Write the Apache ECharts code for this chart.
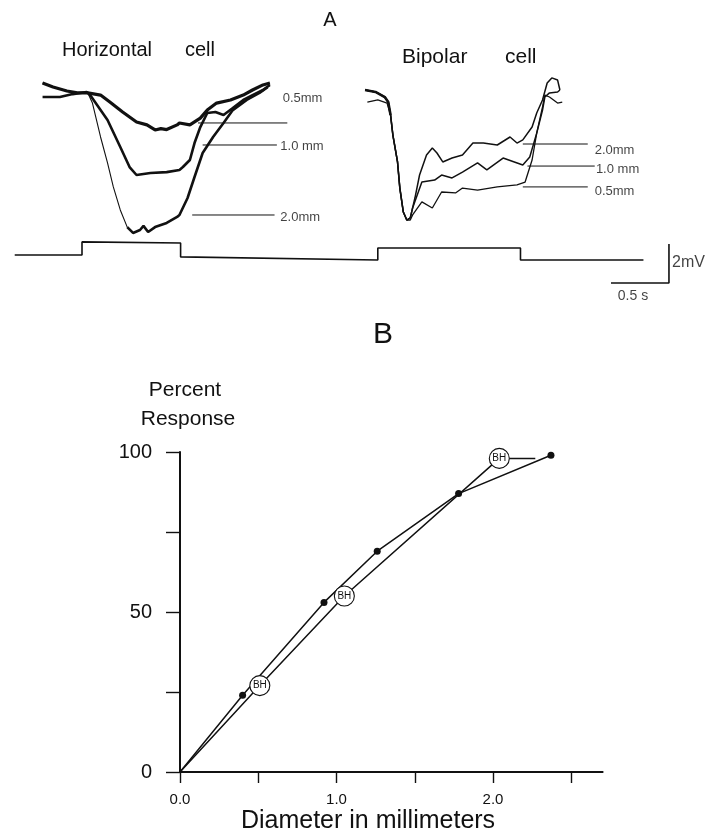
<!DOCTYPE html>
<html><head><meta charset="utf-8">
<script src="https://cdn.jsdelivr.net/npm/echarts@6/dist/echarts.min.js"></script>
<style>html,body{margin:0;padding:0;background:#fff}#c{width:714px;height:832px}</style>
</head><body><div id="c"></div>
<script>
// ---------- Panel A : time (s, 0 = first light onset), potential (mV, 0 = dark level) ----------
const hc05 = [[-0.34,0.36],[-0.25,0.15],[-0.13,-0.05],[-0.04,-0.15],[0.05,-0.15],[0.16,-0.26],[0.24,-0.62],[0.35,-1.13],[0.47,-1.64],[0.56,-1.79],[0.63,-2.05],[0.68,-1.98],[0.73,-2.03],[0.82,-1.79],[0.84,-1.69],[0.93,-1.79],[1.02,-1.44],[1.08,-1.03],[1.16,-0.67],[1.28,-0.51],[1.39,-0.26],[1.47,0],[1.56,0.26],[1.62,0.36]];
const hc10 = [[-0.34,-0.36],[-0.19,-0.36],[-0.08,-0.21],[0.04,-0.10],[0.07,-0.26],[0.22,-1.54],[0.33,-2.92],[0.41,-3.95],[0.47,-4.36],[0.59,-4.26],[0.73,-4.21],[0.84,-4.10],[0.87,-3.95],[0.93,-3.59],[0.97,-2.72],[1.02,-1.90],[1.08,-1.18],[1.15,-1.13],[1.22,-1.28],[1.30,-0.92],[1.39,-0.51],[1.47,-0.26],[1.56,0],[1.62,0.26]];
const hc20 = [[-0.34,0.36],[-0.25,0.15],[-0.13,-0.05],[-0.04,-0.15],[0.05,-0.15],[0.09,-0.67],[0.16,-2.41],[0.22,-3.74],[0.27,-4.97],[0.33,-6.15],[0.39,-7.03],[0.44,-7.33],[0.50,-7.18],[0.53,-6.97],[0.57,-7.28],[0.63,-7.03],[0.73,-6.82],[0.82,-6.51],[0.84,-6.41],[0.91,-5.54],[0.97,-4.46],[1.04,-3.23],[1.13,-2.41],[1.22,-1.69],[1.30,-1.03],[1.42,-0.51],[1.53,-0.15],[1.60,0.15]];
const bc20 = [[2.44,0],[2.53,-0.10],[2.61,-0.36],[2.64,-0.62],[2.66,-1.28],[2.68,-2.31],[2.72,-3.69],[2.74,-5.03],[2.77,-6.26],[2.80,-6.67],[2.83,-6.56],[2.87,-5.54],[2.91,-4.36],[2.97,-3.33],[3.02,-2.97],[3.06,-3.23],[3.11,-3.69],[3.19,-3.49],[3.28,-3.33],[3.37,-2.72],[3.46,-2.72],[3.58,-2.82],[3.69,-2.41],[3.75,-2.72],[3.80,-2.56],[3.88,-1.90],[3.92,-1.18],[3.97,-0.51],[4.01,0.36],[4.05,0.62],[4.10,0.51],[4.12,0]];
const bc10 = [[2.44,0],[2.53,-0.10],[2.61,-0.36],[2.64,-0.62],[2.66,-1.28],[2.68,-2.31],[2.72,-3.69],[2.74,-5.03],[2.77,-6.26],[2.80,-6.67],[2.83,-6.56],[2.85,-6.05],[2.93,-4.72],[3.04,-4.62],[3.10,-4.36],[3.19,-4.51],[3.28,-4.21],[3.41,-3.74],[3.49,-4.10],[3.63,-3.49],[3.80,-3.85],[3.86,-3.44],[3.92,-2.21],[3.97,-1.03],[3.99,-0.36],[4.03,-0.15],[4.10,-0.10],[4.12,0]];
const bc05 = [[2.46,-0.62],[2.55,-0.51],[2.63,-0.67],[2.66,-1.28],[2.68,-2.31],[2.72,-3.69],[2.74,-5.03],[2.77,-6.26],[2.80,-6.67],[2.83,-6.67],[2.85,-6.41],[2.93,-5.74],[3.02,-6.05],[3.10,-5.23],[3.22,-5.28],[3.28,-5.03],[3.41,-5.13],[3.58,-4.97],[3.75,-4.87],[3.82,-4.72],[3.88,-3.59],[3.92,-2.21],[3.97,-0.87],[3.99,-0.26],[4.03,-0.36],[4.10,-0.67],[4.14,-0.62]];
const stimulus = [[-0.58,-8.46],[0,-8.46],[0,-7.79],[0.85,-7.85],[0.85,-8.56],[2.55,-8.72],[2.55,-8.10],[3.78,-8.10],[3.78,-8.72],[4.84,-8.72]];
const leaders = [
  [[1.00,-1.69],[1.77,-1.69]], [[1.04,-2.82],[1.68,-2.82]], [[0.95,-6.41],[1.66,-6.41]],
  [[3.80,-2.77],[4.36,-2.77]], [[3.84,-3.90],[4.42,-3.90]], [[3.80,-4.97],[4.36,-4.97]]
];
const traceLabels = [
  {name:'0.5mm', value:[1.73,-0.41]}, {name:'1.0 mm', value:[1.71,-2.87]}, {name:'2.0mm', value:[1.71,-6.51]},
  {name:'2.0mm', value:[4.42,-3.08]}, {name:'1.0 mm', value:[4.43,-4.05]}, {name:'0.5mm', value:[4.42,-5.18]}
];
const scaleBar = [[4.56,-9.9],[5.06,-9.9],[5.06,-7.9]];

// ---------- Panel B : percent response vs diameter (mm) ----------
const dotDiam = [0, 0.40, 0.92, 1.26, 1.78, 2.37];
const dotResp = [0, 24, 53, 69, 87, 99];
const bhDiam = [0, 0.51, 1.05, 2.04];
const bhResp = [0, 27, 55, 98];
const bhTailDiam = [2.04, 2.27];
const bhTailResp = [98, 98];
const xTicks = [0, 0.5, 1, 1.5, 2, 2.5];
const xLabels = [0, 1, 2];
const yTicks = [0, 25, 50, 75, 100];
const yLabels = [0, 50, 100];

const FONT = "'Liberation Sans', 'DejaVu Sans', sans-serif";
const INK = '#111';

function lineA(data, width, name) {
  return {type:'line', name, xAxisIndex:0, yAxisIndex:0, data, symbol:'none', clip:false, silent:true,
    lineStyle:{color:INK, width}, z:3};
}
const zip = (a, b) => a.map((v, i) => [v, b[i]]);

const series = [
  lineA(hc05, 3.2, 'HC 0.5mm'),
  lineA(hc10, 2.6, 'HC 1.0mm'),
  lineA(hc20.slice(0, 11), 1.1, 'HC 2.0mm'),
  lineA(hc20.slice(10), 2.6, 'HC 2.0mm'),
  lineA(bc20, 1.5, 'BC 2.0mm'),
  lineA(bc10, 1.5, 'BC 1.0mm'),
  lineA(bc05, 1.3, 'BC 0.5mm'),
  lineA(bc20.slice(0, 5), 2.6, 'BC start'),
  lineA(stimulus, 1.6, 'stimulus'),
  lineA(scaleBar, 1.6, 'scale'),
  ...leaders.map(l => lineA(l, 1, 'leader')),
  {type:'scatter', xAxisIndex:0, yAxisIndex:0, data:traceLabels, symbolSize:0, silent:true,
    label:{show:true, position:'right', distance:0, formatter:p => p.name, color:INK, fontFamily:FONT, fontSize:13}},
  {type:'scatter', xAxisIndex:0, yAxisIndex:0, data:[{name:'2mV', value:[5.07,-8.85]}], symbolSize:0, silent:true,
    label:{show:true, position:'right', distance:2, formatter:p => p.name, color:INK, fontFamily:FONT, fontSize:16}},
  {type:'scatter', xAxisIndex:0, yAxisIndex:0, data:[{name:'0.5 s', value:[4.75,-9.9]}], symbolSize:0, silent:true,
    label:{show:true, position:'bottom', distance:6, formatter:p => p.name, color:INK, fontFamily:FONT, fontSize:14}},
  // Panel B
  {type:'line', xAxisIndex:1, yAxisIndex:1, data: zip(dotDiam, dotResp).map((p, i) => i === 0 ? {value:p, symbol:'none'} : p),
    symbol:'circle', symbolSize:7, showAllSymbol:true, clip:false, silent:true,
    itemStyle:{color:INK}, lineStyle:{color:INK, width:1.5}, z:3},
  {type:'line', xAxisIndex:1, yAxisIndex:1, data: zip(bhTailDiam, bhTailResp), symbol:'none', clip:false, silent:true,
    lineStyle:{color:INK, width:1.5}, z:3},
  {type:'line', xAxisIndex:1, yAxisIndex:1, data: zip(bhDiam, bhResp).map((p, i) => i === 0 ? {value:p, symbol:'none'} : p),
    symbol:'circle', symbolSize:20, showAllSymbol:true, clip:false, silent:true,
    itemStyle:{color:'#fff', borderColor:INK, borderWidth:1.1}, lineStyle:{color:INK, width:1.5},
    label:{show:true, position:'inside', formatter:p => p.dataIndex === 0 ? '' : 'BH', fontSize:10, color:INK, fontFamily:FONT},
    z:4}
];

const chart = echarts.init(document.getElementById('c'), null, {renderer:'canvas'});
const T = (text, x, y, size, align) => ({type:'text', x, y,
  style:{text, font:`${size}px ${FONT}`, fill:INK, textAlign:align || 'center', textVerticalAlign:'middle'}});
chart.setOption({
  backgroundColor:'#fff',
  animation:false,
  grid:[
    {left:12.4, top:41.25, width:672.8, height:243.75},
    {left:180, top:452, width:422.6, height:320}
  ],
  xAxis:[
    {gridIndex:0, type:'value', min:-0.6, max:5.2, show:false},
    {gridIndex:1, type:'value', min:0, max:2.7, interval:0.5,
      axisLine:{show:true, onZero:false, lineStyle:{color:INK, width:2}},
      axisTick:{show:true, length:11, customValues:xTicks, lineStyle:{color:INK, width:1.4}},
      axisLabel:{show:true, customValues:xLabels, formatter:v => Number(v).toFixed(1), margin:20,
        fontSize:15, color:INK, fontFamily:FONT},
      splitLine:{show:false}}
  ],
  yAxis:[
    {gridIndex:0, type:'value', min:-10, max:2.5, show:false},
    {gridIndex:1, type:'value', min:0, max:100, interval:25,
      axisLine:{show:true, onZero:false, lineStyle:{color:INK, width:2}},
      axisTick:{show:true, length:14, customValues:yTicks, lineStyle:{color:INK, width:1.4}},
      axisLabel:{show:true, customValues:yLabels, margin:28, fontSize:20, color:INK, fontFamily:FONT},
      splitLine:{show:false}}
  ],
  graphic:[
    T('A', 330, 20, 20),
    T('Horizontal', 62, 50, 20, 'left'),
    T('cell', 185, 50, 20, 'left'),
    T('Bipolar', 402, 57, 21, 'left'),
    T('cell', 505, 57, 21, 'left'),
    T('B', 383, 335, 30),
    T('Percent', 185, 390, 21),
    T('Response', 188, 419, 21),
    T('Diameter in millimeters', 368, 821, 25)
  ],
  series
});
</script></body></html>
